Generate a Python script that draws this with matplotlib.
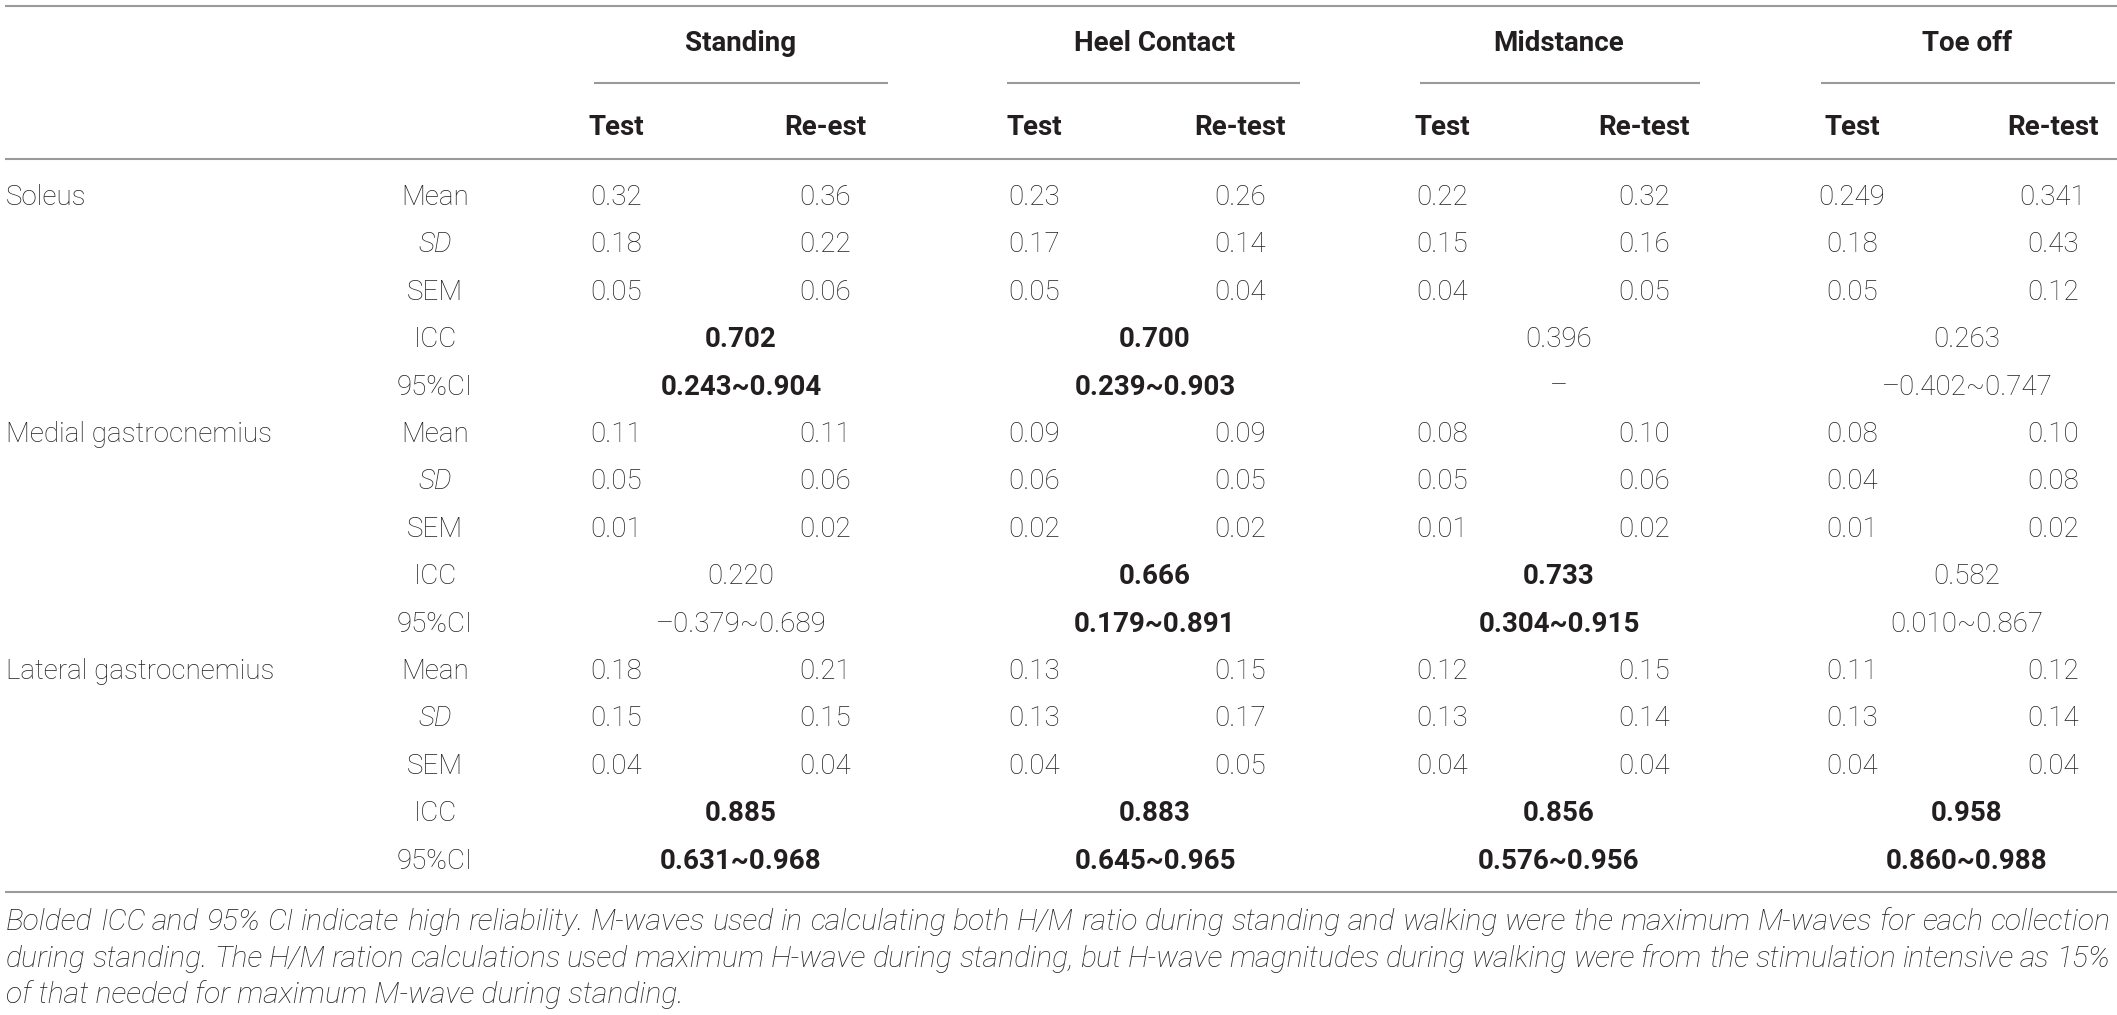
import matplotlib
matplotlib.use('Agg')
import matplotlib.pyplot as plt

# == table content ==========================================
phases = ['Standing', 'Heel Contact', 'Midstance', 'Toe off']
sub_heads = ['Test', 'Re-est', 'Test', 'Re-test', 'Test', 'Re-test', 'Test', 'Re-test']
muscles = ['Soleus', 'Medial gastrocnemius', 'Lateral gastrocnemius']
stat_names = ['Mean', 'SD', 'SEM', 'ICC', '95%CI']

# test / re-test pairs per phase (Standing, Heel Contact, Midstance, Toe off)
soleus_mean = ['0.32', '0.36', '0.23', '0.26', '0.22', '0.32', '0.249', '0.341']
soleus_sd = ['0.18', '0.22', '0.17', '0.14', '0.15', '0.16', '0.18', '0.43']
soleus_sem = ['0.05', '0.06', '0.05', '0.04', '0.04', '0.05', '0.05', '0.12']
soleus_icc = ['0.702', '0.700', '0.396', '0.263']
soleus_ci = ['0.243~0.904', '0.239~0.903', '\u2013', '\u20130.402~0.747']
soleus_bold = [True, True, False, False]

medial_mean = ['0.11', '0.11', '0.09', '0.09', '0.08', '0.10', '0.08', '0.10']
medial_sd = ['0.05', '0.06', '0.06', '0.05', '0.05', '0.06', '0.04', '0.08']
medial_sem = ['0.01', '0.02', '0.02', '0.02', '0.01', '0.02', '0.01', '0.02']
medial_icc = ['0.220', '0.666', '0.733', '0.582']
medial_ci = ['\u20130.379~0.689', '0.179~0.891', '0.304~0.915', '0.010~0.867']
medial_bold = [False, True, True, False]

lateral_mean = ['0.18', '0.21', '0.13', '0.15', '0.12', '0.15', '0.11', '0.12']
lateral_sd = ['0.15', '0.15', '0.13', '0.17', '0.13', '0.14', '0.13', '0.14']
lateral_sem = ['0.04', '0.04', '0.04', '0.05', '0.04', '0.04', '0.04', '0.04']
lateral_icc = ['0.885', '0.883', '0.856', '0.958']
lateral_ci = ['0.631~0.968', '0.645~0.965', '0.576~0.956', '0.860~0.988']
lateral_bold = [True, True, True, True]

footnote = [
    'Bolded ICC and 95% CI indicate high reliability. M-waves used in calculating both H/M ratio during standing and walking were the maximum M-waves for each collection',
    'during standing. The H/M ration calculations used maximum H-wave during standing, but H-wave magnitudes during walking were from the stimulation intensive as 15%',
    'of that needed for maximum M-wave during standing.',
]

blocks = [
    (soleus_mean, soleus_sd, soleus_sem, soleus_icc, soleus_ci, soleus_bold),
    (medial_mean, medial_sd, medial_sem, medial_icc, medial_ci, medial_bold),
    (lateral_mean, lateral_sd, lateral_sem, lateral_icc, lateral_ci, lateral_bold),
]

# == layout (pixels) ==========================================
W, H = 2117, 1015
col_x = [616, 825, 1034, 1240, 1442, 1644, 1852, 2053]
group_x = [741, 1155, 1559, 1967]
group_lines = [(594, 888), (1007, 1300), (1420, 1700), (1821, 2115)]
stat_x = 435
name_x = 6
row0, row_h = 195, 47.4
TXT = '#231f20'
LINE = '#9a9a9a'
FONT = ['Roboto', 'DejaVu Sans']
FS = 20
base = 10  # baseline offset from row centre

fig = plt.figure(figsize=(W / 100, H / 100), dpi=100)
ax = fig.add_axes([0, 0, 1, 1])
ax.set_xlim(0, W)
ax.set_ylim(H, 0)
ax.axis('off')


def txt(x, y, s, ha='center', weight='light', style='normal', size=FS):
    return ax.text(x, y, s, ha=ha, va='baseline', fontsize=size, color=TXT,
                   family=FONT, fontweight=weight, fontstyle=style)


def hline(y, x0=5, x1=W):
    ax.plot([x0, x1], [y, y], color=LINE, lw=1.5, solid_capstyle='butt')


# rules
hline(6)
hline(159)
hline(892)
for x0, x1 in group_lines:
    hline(83, x0, x1)

# headers
for gx, ph in zip(group_x, phases):
    txt(gx, 51, ph, weight='bold')
for cx, sh in zip(col_x, sub_heads):
    txt(cx, 135, sh, weight='bold')

# body
r = 0
for m, (mean, sd, sem, icc, ci, bold) in enumerate(blocks):
    y_first = row0 + r * row_h
    txt(name_x, y_first + base, muscles[m], ha='left')
    for k, stat in enumerate(stat_names):
        y = row0 + r * row_h + base
        txt(stat_x, y, stat, style='italic' if stat == 'SD' else 'normal')
        if k < 3:
            vals = [mean, sd, sem][k]
            for cx, v in zip(col_x, vals):
                txt(cx, y, v)
        else:
            vals = icc if k == 3 else ci
            for gx, v, b in zip(group_x, vals, bold):
                txt(gx, y, v, weight='bold' if b else 'light')
        r += 1

# footnote: fit first line to width, justify second line
renderer = fig.canvas.get_renderer()
target = 2110 - name_x
probe = txt(name_x, 930, footnote[0], ha='left', style='italic', size=19)
w0 = probe.get_window_extent(renderer).width
fs_note = 19 * target / w0
probe.remove()

fn_y = [930, 967, 1003]
for i, line in enumerate(footnote):
    if i == len(footnote) - 1:
        txt(name_x, fn_y[i], line, ha='left', style='italic', size=fs_note)
        continue
    words = line.split(' ')
    widths = []
    for wd in words:
        t = txt(0, 0, wd, ha='left', style='italic', size=fs_note)
        widths.append(t.get_window_extent(renderer).width)
        t.remove()
    gap = (target - sum(widths)) / (len(words) - 1)
    x = name_x
    for wd, ww in zip(words, widths):
        txt(x, fn_y[i], wd, ha='left', style='italic', size=fs_note)
        x += ww + gap

fig.savefig('out.png', dpi=100, facecolor='white')
